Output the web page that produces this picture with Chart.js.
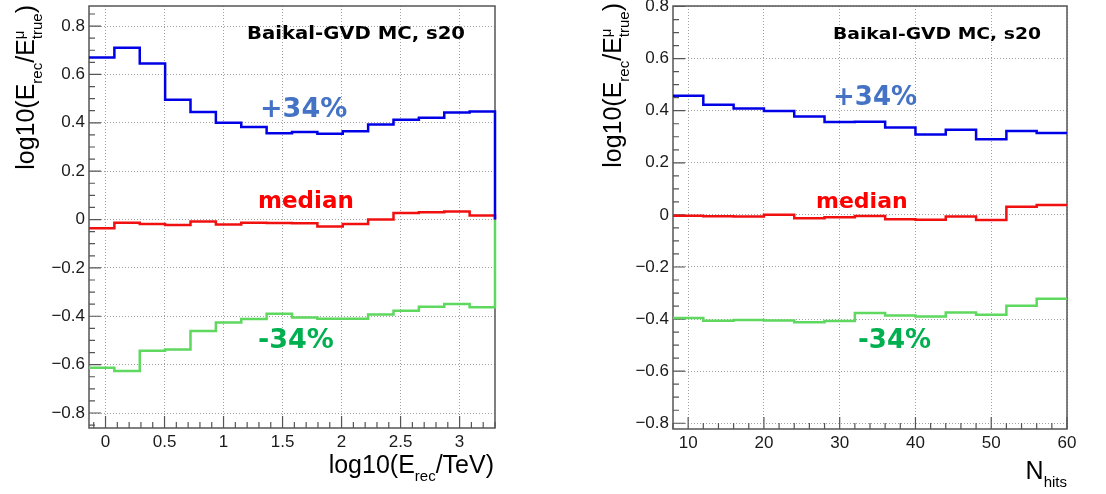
<!DOCTYPE html>
<html>
<head>
<meta charset="utf-8">
<script src="https://cdn.jsdelivr.net/npm/chart.js@4.4.1/dist/chart.umd.min.js"></script>
<style>
  body { margin: 0; background: #fff; width: 1106px; height: 494px; position: relative; overflow: hidden; }
  canvas { position: absolute; top: 0; }
</style>
</head>
<body>
<canvas id="energyChart" width="540" height="494" style="left:0"></canvas>
<canvas id="hitsChart" width="553" height="494" style="left:553px"></canvas>
<script>
// bin lower edges (last entry = upper edge of the last bin)
const energyEdges = [-0.14, 0.075, 0.29, 0.505, 0.72, 0.935, 1.15, 1.365, 1.58, 1.795, 2.01, 2.225, 2.44, 2.655, 2.87, 3.085, 3.30];
const energyUpper = [0.67, 0.71, 0.645, 0.495, 0.445, 0.40, 0.383, 0.357, 0.362, 0.355, 0.365, 0.393, 0.413, 0.421, 0.443, 0.447];
const energyMedian = [-0.036, -0.013, -0.018, -0.023, -0.008, -0.021, -0.013, -0.014, -0.015, -0.029, -0.018, 0.0, 0.027, 0.03, 0.033, 0.017];
const energyLower = [-0.613, -0.626, -0.543, -0.537, -0.461, -0.426, -0.411, -0.39, -0.405, -0.41, -0.41, -0.393, -0.377, -0.361, -0.349, -0.363];

const hitsEdges = [8, 12, 16, 20, 24, 28, 32, 36, 40, 44, 48, 52, 56, 60];
const hitsUpper = [0.457, 0.423, 0.408, 0.399, 0.378, 0.357, 0.358, 0.336, 0.309, 0.327, 0.29, 0.322, 0.314];
const hitsMedian = [-0.003, -0.005, -0.006, 0.001, -0.013, -0.009, -0.004, -0.017, -0.019, -0.006, -0.02, 0.031, 0.038];
const hitsLower = [-0.396, -0.406, -0.404, -0.405, -0.412, -0.407, -0.377, -0.386, -0.39, -0.375, -0.383, -0.349, -0.322];

const yTickValues = [-0.8, -0.6, -0.4, -0.2, 0, 0.2, 0.4, 0.6, 0.8];
const energyTickValues = [0, 0.5, 1, 1.5, 2, 2.5, 3];
const hitsTickValues = [10, 20, 30, 40, 50, 60];

const fmt = (v) => (v < 0 ? "\u2212" : "") + String(Math.abs(v));

// histogram outline: one point per lower edge, then the closing edge
const toSteps = (edges, values, closeAtZero) => {
  const pts = values.map((v, i) => ({ x: edges[i], y: v }));
  pts.push({ x: edges[edges.length - 1], y: values[values.length - 1] });
  if (closeAtZero) pts.push({ x: edges[edges.length - 1], y: 0 });
  return pts;
};

const drawRich = (ctx, parts, size) => {
  let x = 0;
  parts.forEach((p) => {
    const s = size * (p.s || 1);
    ctx.font = `${s}px "Liberation Sans", Arial, sans-serif`;
    ctx.fillText(p.t, x, (p.dy || 0) * size);
    if (!p.stack) x += ctx.measureText(p.t).width;
  });
  return x;
};
const richWidth = (ctx, parts, size) => {
  let x = 0;
  parts.forEach((p) => {
    ctx.font = `${size * (p.s || 1)}px "Liberation Sans", Arial, sans-serif`;
    if (!p.stack) x += ctx.measureText(p.t).width;
  });
  return x;
};

const yTitle = [
  { t: "log10(E" }, { t: "rec", s: 0.6, dy: 0.3 }, { t: "/E" },
  { t: "\u03bc", s: 0.6, dy: -0.42, stack: true }, { t: "true", s: 0.6, dy: 0.3 }, { t: ")" },
];

const rootFrame = {
  id: "rootFrame",
  beforeDatasetsDraw(chart, args, opts) {
    const { ctx, chartArea: a, scales: { x, y } } = chart;
    ctx.save();
    ctx.strokeStyle = "#555";
    ctx.lineWidth = 1.5;
    ctx.strokeRect(a.left, a.top, a.right - a.left, a.bottom - a.top);
    ctx.lineWidth = 1.2;
    ctx.beginPath();
    const ticks = (scale, step, major, draw) => {
      const k0 = Math.ceil(scale.min / step - 1e-6);
      const k1 = Math.floor(scale.max / step + 1e-6);
      for (let k = k0; k <= k1; k++) {
        const v = k * step;
        const isMajor = Math.abs(v / major - Math.round(v / major)) < 1e-6;
        draw(scale.getPixelForValue(v), isMajor ? 12 : 6);
      }
    };
    ticks(x, opts.xMinor, opts.xMajor, (px, len) => { ctx.moveTo(px, a.bottom); ctx.lineTo(px, a.bottom - len); });
    ticks(y, 0.05, 0.2, (py, len) => { ctx.moveTo(a.left, py); ctx.lineTo(a.left + len, py); });
    ctx.stroke();
    ctx.restore();
  },
  afterDraw(chart, args, opts) {
    const { ctx } = chart;
    ctx.save();
    ctx.fillStyle = "#000";
    ctx.textBaseline = "alphabetic";
    ctx.textAlign = "left";
    // y title, rotated, ending near the top
    const w = richWidth(ctx, yTitle, 25);
    ctx.save();
    ctx.translate(opts.yTitleX, opts.yTitleEnd + w);
    ctx.rotate(-Math.PI / 2);
    drawRich(ctx, yTitle, 25);
    ctx.restore();
    // x title, right aligned
    const xw = richWidth(ctx, opts.xTitle, opts.xTitleSize);
    ctx.save();
    ctx.translate(opts.xTitleRight - xw, opts.xTitleY);
    drawRich(ctx, opts.xTitle, opts.xTitleSize);
    ctx.restore();
    // labels in the frame (stretched to the width seen in the figure when given)
    ctx.textBaseline = "middle";
    opts.notes.forEach((n) => {
      ctx.font = `bold ${n.size}px "DejaVu Sans", Verdana, sans-serif`;
      ctx.fillStyle = n.color;
      const tw = ctx.measureText(n.text).width;
      ctx.save();
      ctx.translate(n.x, n.y);
      if (n.w) ctx.scale(n.w / tw, 1);
      ctx.fillText(n.text, 0, 0);
      ctx.restore();
    });
    ctx.restore();
  },
};

const makePanel = (id, p) => {
  const tickFont = { family: "Liberation Sans", size: 17 };
  return new Chart(document.getElementById(id), {
    type: "line",
    data: {
      datasets: [
        { data: toSteps(p.edges, p.upper, p.close), borderColor: "#0000e6" },
        { data: toSteps(p.edges, p.lower, p.close), borderColor: "#5fd85f" },
        { data: toSteps(p.edges, p.median, p.close), borderColor: "#f01010" },
      ],
    },
    options: {
      responsive: false,
      animation: false,
      layout: { padding: { top: 6, right: p.padRight, left: 0, bottom: 0 } },
      datasets: { line: { stepped: true, borderWidth: 2.5, pointRadius: 0, fill: false, clip: 4 } },
      plugins: { legend: { display: false }, tooltip: { enabled: false }, rootFrame: p.frame },
      scales: {
        x: {
          type: "linear",
          min: p.xMin,
          max: p.xMax,
          afterBuildTicks: (s) => { s.ticks = p.xTicks.map((v) => ({ value: v })); },
          afterFit: (s) => { s.height = p.xHeight; s.paddingLeft = 0; s.paddingRight = 0; },
          ticks: { callback: (v) => fmt(v), font: tickFont, color: "#1a1a1a", padding: 4, autoSkip: false, maxRotation: 0 },
          grid: { color: "#a0a0a0", lineWidth: 1, drawTicks: false },
          border: { display: false, dash: [1, 2] },
        },
        y: {
          type: "linear",
          min: p.yMin,
          max: p.yMax,
          afterBuildTicks: (s) => { s.ticks = yTickValues.map((v) => ({ value: v })); },
          afterFit: (s) => { s.width = p.yWidth; s.paddingTop = 0; s.paddingBottom = 0; },
          ticks: { callback: (v) => fmt(v), font: tickFont, color: "#1a1a1a", padding: 4, autoSkip: false },
          grid: { color: "#a0a0a0", lineWidth: 1, drawTicks: false },
          border: { display: false, dash: [1, 2] },
        },
      },
    },
    plugins: [rootFrame],
  });
};

makePanel("energyChart", {
  edges: energyEdges, upper: energyUpper, median: energyMedian, lower: energyLower, close: true,
  xMin: -0.14, xMax: 3.30, yMin: -0.862, yMax: 0.883, xTicks: energyTickValues,
  padRight: 45, yWidth: 89, xHeight: 66,
  frame: {
    xMinor: 0.1, xMajor: 0.5,
    yTitleX: 34, yTitleEnd: 5,
    xTitle: [{ t: "log10(E" }, { t: "rec", s: 0.6, dy: 0.3 }, { t: "/TeV)" }],
    xTitleSize: 25, xTitleRight: 494, xTitleY: 473,
    notes: [
      { text: "Baikal-GVD MC, s20", x: 247, y: 35, size: 17, color: "#000", w: 218 },
      { text: "+34%", x: 260, y: 110, size: 27, color: "#4472c4" },
      { text: "median", x: 258, y: 202, size: 23, color: "#ff0000" },
      { text: "-34%", x: 258, y: 341, size: 27, color: "#00b050" },
    ],
  },
});

makePanel("hitsChart", {
  edges: hitsEdges, upper: hitsUpper, median: hitsMedian, lower: hitsLower, close: false,
  xMin: 8, xMax: 60, yMin: -0.822, yMax: 0.802, xTicks: hitsTickValues,
  padRight: 39, yWidth: 120, xHeight: 65,
  frame: {
    xMinor: 2, xMajor: 10,
    yTitleX: 68, yTitleEnd: 3,
    xTitle: [{ t: "N" }, { t: "hits", s: 0.6, dy: 0.3 }],
    xTitleSize: 25, xTitleRight: 514, xTitleY: 479,
    notes: [
      { text: "Baikal-GVD MC, s20", x: 280, y: 35, size: 16, color: "#000", w: 208 },
      { text: "+34%", x: 280, y: 98, size: 26, color: "#4472c4" },
      { text: "median", x: 263, y: 202, size: 22, color: "#ff0000" },
      { text: "-34%", x: 305, y: 341, size: 26, color: "#00b050" },
    ],
  },
});
</script>
</body>
</html>
